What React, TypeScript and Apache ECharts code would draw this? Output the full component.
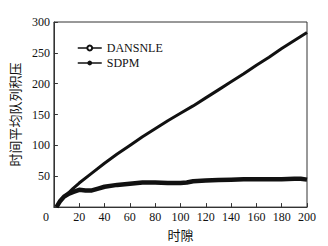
import React, { useEffect, useRef } from "react";
import * as echarts from "echarts";

const seriesNames = ["DANSNLE", "SDPM"];
const xTicks = { min: 0, max: 200, interval: 20 };
const yTicks = { min: 0, max: 300, interval: 50 };

const dansnleX = [2, 5, 8, 12, 16, 20, 25, 30, 35, 40, 50, 60, 70, 80, 90, 100, 105, 110, 120, 130, 140, 150, 160, 170, 180, 190, 195, 200];
const dansnleY = [0, 10, 17, 22, 25, 28, 27, 27, 30, 33, 36, 38, 40, 40, 39, 39, 40, 42, 43, 44, 44.5, 45, 45, 45, 45, 46, 46, 44.5];

const sdpmX = [2, 5, 10, 15, 20, 30, 40, 50, 60, 70, 80, 90, 100, 110, 120, 130, 140, 150, 160, 170, 180, 190, 200];
const sdpmY = [0, 10, 20, 30, 39, 55, 71, 86, 100, 114, 127, 140, 152, 164, 177, 190, 203, 216, 230, 243, 257, 270, 283];

const xName = "时隙";
const yName = "时间平均队列积压";

const serif = "Liberation Serif";
const cjk = "Noto Sans CJK SC";

export default function App() {
  const ref = useRef<HTMLDivElement>(null);
  useEffect(() => {
    if (!ref.current) return;
    const chart = echarts.init(ref.current, null, { renderer: "svg" });
    const zip = (xs: number[], ys: number[]) => xs.map((x, i) => [x, ys[i]]);
    chart.setOption({
      animation: false,
      backgroundColor: "#fff",
      grid: {
        left: 48,
        right: 21,
        top: 22,
        bottom: 35,
        show: true,
        borderColor: "#333",
        borderWidth: 1,
      },
      legend: {
        orient: "vertical",
        left: 72,
        top: 37,
        itemWidth: 24,
        itemHeight: 6,
        itemGap: 3,
        textStyle: { fontFamily: serif, fontSize: 12, color: "#111" },
        lineStyle: { width: 1.5 },
        data: seriesNames,
      },
      xAxis: {
        type: "value",
        min: xTicks.min,
        max: xTicks.max,
        interval: xTicks.interval,
        name: xName,
        nameLocation: "middle",
        nameGap: 20,
        nameTextStyle: { fontFamily: cjk, fontSize: 13, color: "#111" },
        axisLine: { show: true, lineStyle: { color: "#333", width: 1 } },
        axisTick: { show: true, inside: true, length: 4, lineStyle: { color: "#333" } },
        axisLabel: {
          fontFamily: serif,
          fontSize: 12,
          color: "#111",
          margin: 4,
          formatter: (v: number) => (v === 0 ? "{o|0}" : String(v)),
          rich: { o: { fontFamily: serif, fontSize: 12, color: "#111", padding: [0, 16, 0, 0] } },
        },
        splitLine: { show: false },
      },
      yAxis: {
        type: "value",
        min: yTicks.min,
        max: yTicks.max,
        interval: yTicks.interval,
        name: yName,
        nameLocation: "middle",
        nameGap: 27,
        nameTextStyle: { fontFamily: cjk, fontSize: 13, color: "#111" },
        axisLine: { show: true, lineStyle: { color: "#333", width: 1 } },
        axisTick: { show: true, inside: true, length: 4, lineStyle: { color: "#333" } },
        axisLabel: { fontFamily: serif, fontSize: 12, color: "#111", margin: 4, showMinLabel: false },
        splitLine: { show: false },
      },
      series: [
        {
          name: seriesNames[0],
          type: "line",
          data: zip(dansnleX, dansnleY),
          showSymbol: false,
          symbol: "emptyCircle",
          lineStyle: { color: "#111", width: 4.5 },
          itemStyle: { color: "#111" },
        },
        {
          name: seriesNames[1],
          type: "line",
          data: zip(sdpmX, sdpmY),
          showSymbol: false,
          symbol: "circle",
          lineStyle: { color: "#111", width: 3 },
          itemStyle: { color: "#111" },
        },
      ],
    });
    return () => chart.dispose();
  }, []);
  return <div ref={ref} style={{ position: "fixed", left: 0, top: 0, width: 328, height: 246 }} />;
}
